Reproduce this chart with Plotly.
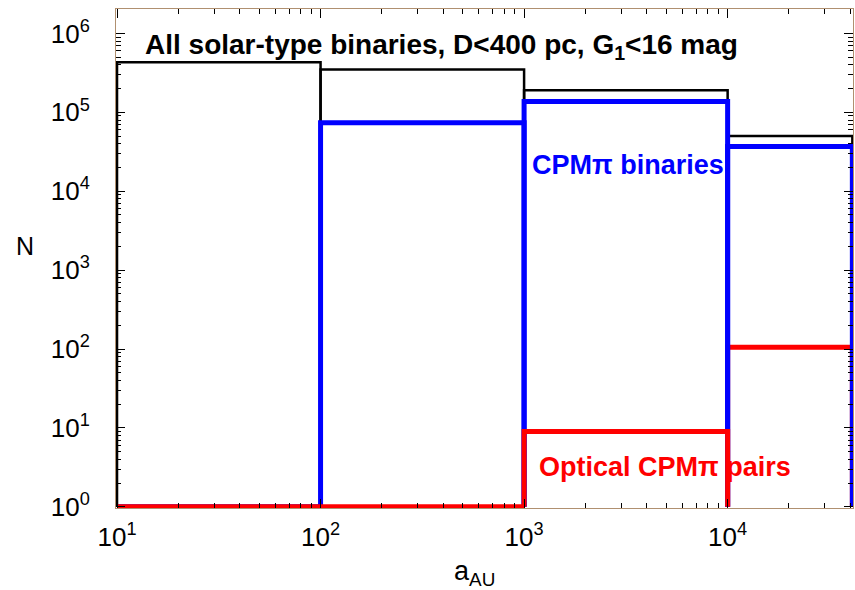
import numpy as np
import plotly.graph_objects as go

# Data
bin_edges = [10, 100, 1000, 10000, 41000]
n_all = [430000, 350000, 190000, 50000]
n_cpm = [1, 74000, 137000, 37000]
n_optical = [1, 1, 9, 105]
tick_vals_y = [1, 10, 100, 1000, 10000, 100000, 1000000]
tick_text_y = ["10<sup>0</sup>", "10<sup>1</sup>", "10<sup>2</sup>", "10<sup>3</sup>",
               "10<sup>4</sup>", "10<sup>5</sup>", "10<sup>6</sup>"]
tick_vals_x = [10, 100, 1000, 10000]
tick_text_x = ["10<sup>1</sup>", "10<sup>2</sup>", "10<sup>3</sup>", "10<sup>4</sup>"]


def outline(edges, vals, idx):
    xs, ys = [], []
    for i in idx:
        lo, hi, v = edges[i], edges[i + 1], vals[i]
        xs += [lo, lo, hi, hi, None]
        ys += [1, v, v, 1, None]
    return xs, ys


fig = go.Figure()
x, y = outline(bin_edges, n_all, range(4))
fig.add_trace(go.Scatter(x=x, y=y, mode="lines", line=dict(color="black", width=2.5),
                         name="All", showlegend=False))
x, y = outline(bin_edges, n_optical, [3])
fig.add_trace(go.Scatter(x=x, y=y, mode="lines", line=dict(color="#ff0000", width=5),
                         name="Optical", showlegend=False))
x, y = outline(bin_edges, n_cpm, range(4))
fig.add_trace(go.Scatter(x=x, y=y, mode="lines", line=dict(color="#0000ff", width=5),
                         name="CPM", showlegend=False))
x, y = outline(bin_edges, n_optical, [0, 1, 2])
fig.add_trace(go.Scatter(x=x, y=y, mode="lines", line=dict(color="#ff0000", width=5),
                         name="Optical", showlegend=False))

frame = "#b09070"
font = "Liberation Sans, Arial"
fig.update_xaxes(type="log", range=[0.995, np.log10(41300)],
                 tickvals=tick_vals_x, ticktext=tick_text_x,
                 ticks="inside", ticklen=9, tickcolor="black", tickwidth=1,
                 minor=dict(ticks="inside", ticklen=5, tickcolor="black", dtick="D1", showgrid=False),
                 showline=True, linecolor=frame, linewidth=1, mirror="ticks",
                 showgrid=False, zeroline=False, ticklabelstandoff=6,
                 tickfont=dict(family=font, size=26, color="black"))
fig.update_yaxes(type="log", range=[-0.015, 6.31],
                 tickvals=tick_vals_y, ticktext=tick_text_y,
                 ticks="inside", ticklen=9, tickcolor="black", tickwidth=1,
                 minor=dict(ticks="inside", ticklen=5, tickcolor="black", dtick="D1", showgrid=False),
                 showline=True, linecolor=frame, linewidth=1, mirror="ticks",
                 showgrid=False, zeroline=False, ticklabelstandoff=20,
                 tickfont=dict(family=font, size=26, color="black"))

fig.add_annotation(xref="paper", yref="paper", x=0.0366, y=0.924, xanchor="left", yanchor="middle",
                   text="<b>All solar-type binaries, D<400 pc, G<sub>1</sub><16 mag</b>",
                   showarrow=False, font=dict(family=font, size=28, color="black"))
fig.add_annotation(xref="paper", yref="paper", x=0.5617, y=0.687, xanchor="left", yanchor="middle",
                   text="<b>CPMπ binaries</b>",
                   showarrow=False, font=dict(family=font, size=27, color="#0000ff"))
fig.add_annotation(xref="paper", yref="paper", x=0.571, y=0.082, xanchor="left", yanchor="middle",
                   text="<b>Optical CPMπ pairs</b>",
                   showarrow=False, font=dict(family=font, size=27, color="#ff0000"))
fig.add_annotation(xref="paper", yref="paper", x=-0.123, y=0.525, xanchor="center", yanchor="middle",
                   text="N", showarrow=False,
                   font=dict(family=font, size=25, color="black"))
fig.add_annotation(xref="paper", yref="paper", x=0.487, y=-0.13, xanchor="center", yanchor="middle",
                   text="a<sub>AU</sub>", showarrow=False,
                   font=dict(family=font, size=27, color="black"))

fig.update_layout(width=855, height=590, margin=dict(l=116, r=2, t=9, b=82),
                  plot_bgcolor="white", paper_bgcolor="white", showlegend=False)
fig.write_html("out.html")
